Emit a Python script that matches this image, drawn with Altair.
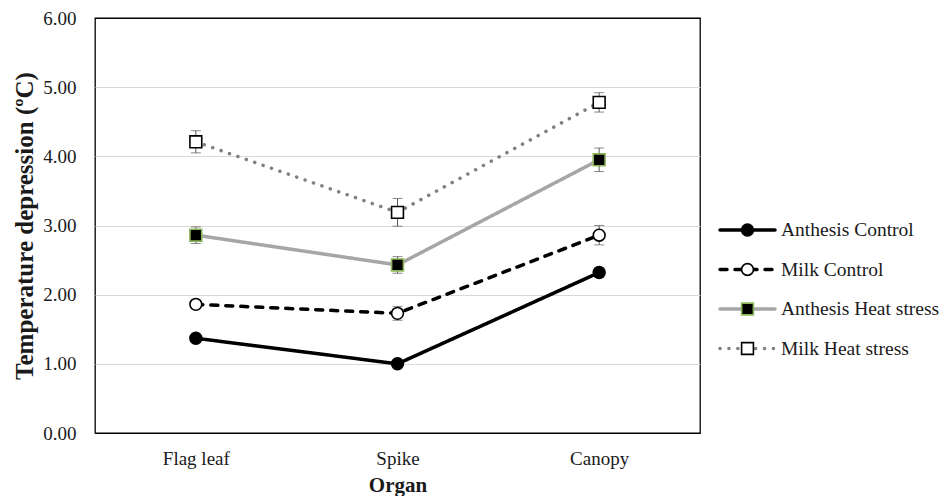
import altair as alt
import pandas as pd

organs = ["Flag leaf", "Spike", "Canopy"]
series = ["Anthesis Control", "Milk Control", "Anthesis Heat stress", "Milk Heat stress"]

anthesis_control = [1.37, 1.00, 2.32]
milk_control = [1.86, 1.73, 2.86]
anthesis_heat = [2.86, 2.43, 3.95]
milk_heat = [4.21, 3.19, 4.78]

anthesis_control_err = [0.03, 0.03, 0.07]
milk_control_err = [0.03, 0.10, 0.14]
anthesis_heat_err = [0.12, 0.12, 0.17]
milk_heat_err = [0.16, 0.20, 0.14]

values = [anthesis_control, milk_control, anthesis_heat, milk_heat]
errs = [anthesis_control_err, milk_control_err, anthesis_heat_err, milk_heat_err]

rows = []
for s, vals, es in zip(series, values, errs):
    for o, v, e in zip(organs, vals, es):
        rows.append({"organ": o, "series": s, "value": v, "err": e})
df = pd.DataFrame(rows)

FONT = "Liberation Serif"
TXT = "#1a1a1a"

line_colors = ["#000000", "#000000", "#a6a6a6", "#808080"]
dashes = [[1, 0], [7, 8], [1, 0], [0.1, 8.8]]
widths = [3.5, 3.5, 4.5, 4]
shapes = ["circle", "circle", "square", "square"]
fills = ["#000000", "#ffffff", "#000000", "#ffffff"]
strokes = ["#000000", "#000000", "#8db55a", "#000000"]
sizes = [140, 140, 170, 170]

color_enc = alt.Color("series:N", scale=alt.Scale(domain=series, range=line_colors), legend=None)
dash_enc = alt.StrokeDash("series:N", scale=alt.Scale(domain=series, range=dashes), legend=None)
width_enc = alt.StrokeWidth("series:N", scale=alt.Scale(domain=series, range=widths), legend=None)
shape_enc = alt.Shape("series:N", scale=alt.Scale(domain=series, range=shapes), legend=None)
fill_enc = alt.Fill("series:N", scale=alt.Scale(domain=series, range=fills), legend=None)
stroke_enc = alt.Stroke("series:N", scale=alt.Scale(domain=series, range=strokes), legend=None)
size_enc = alt.Size("series:N", scale=alt.Scale(domain=series, range=sizes), legend=None)

x_enc = alt.X(
    "organ:N",
    sort=organs,
    scale=alt.Scale(type="point", padding=0.5),
    axis=alt.Axis(
        title="Organ", labelAngle=0, ticks=False, domain=False, labelPadding=16,
        labelFont=FONT, labelFontSize=19, labelColor=TXT,
        titleFont=FONT, titleFontSize=21, titleFontWeight="bold", titleColor=TXT, titlePadding=6,
    ),
)
y_scale = alt.Scale(domain=[0, 6], nice=False)
y_enc = alt.Y(
    "value:Q",
    scale=y_scale,
    axis=alt.Axis(
        title="Temperature depression (ºC)", values=[0, 1, 2, 3, 4, 5, 6], format=".2f",
        ticks=False, domain=False, labelPadding=19,
        labelFont=FONT, labelFontSize=19, labelColor=TXT,
        gridColor=alt.condition("datum.value == 0 || datum.value == 6", alt.value("#000000"), alt.value("#d9d9d9")),
        gridWidth=1,
        titleFont=FONT, titleFontSize=25, titleFontWeight="bold", titleColor=TXT, titlePadding=5,
    ),
)

base = alt.Chart(df)

lines = base.mark_line(strokeCap="round").encode(
    x=x_enc, y=y_enc, color=color_enc, strokeDash=dash_enc, strokeWidth=width_enc, detail="series:N"
)

err_base = base.transform_calculate(lo="datum.value - datum.err", hi="datum.value + datum.err")
err_rule = err_base.mark_rule(color="#595959", strokeWidth=1).encode(
    x=alt.X("organ:N", sort=organs), y="lo:Q", y2="hi:Q"
)
cap_lo = err_base.mark_tick(color="#595959", thickness=1, size=10).encode(
    x=alt.X("organ:N", sort=organs), y="lo:Q"
)
cap_hi = err_base.mark_tick(color="#595959", thickness=1, size=10).encode(
    x=alt.X("organ:N", sort=organs), y="hi:Q"
)

points = base.mark_point(filled=True, opacity=1, strokeWidth=1.6).encode(
    x=alt.X("organ:N", sort=organs), y="value:Q",
    shape=shape_enc, fill=fill_enc, stroke=stroke_enc, size=size_enc,
)

main = alt.layer(lines, err_rule, cap_lo, cap_hi, points).properties(
    width=605, height=415, view=alt.ViewBackground(stroke="#000000", strokeWidth=1.3)
)

leg_df = pd.DataFrame({"series": series, "x0": 0.0, "x1": 1.0, "xm": 0.5})
leg_base = alt.Chart(leg_df)
leg_x = alt.Scale(domain=[0, 1])
leg_y = alt.Y("series:N", sort=series, scale=alt.Scale(type="point", range=[212, 330.5], padding=0), axis=None)

leg_lines = leg_base.mark_rule(strokeCap="round").encode(
    x=alt.X("x0:Q", scale=leg_x, axis=None), x2="x1:Q", y=leg_y,
    color=color_enc, strokeDash=dash_enc, strokeWidth=width_enc,
)
leg_points = leg_base.mark_point(filled=True, opacity=1, strokeWidth=1.6).encode(
    x=alt.X("xm:Q", scale=leg_x, axis=None), y=leg_y,
    shape=shape_enc, fill=fill_enc, stroke=stroke_enc, size=size_enc,
)
leg_text = leg_base.mark_text(align="left", baseline="middle", dx=6, font=FONT, fontSize=19.5, color=TXT).encode(
    x=alt.X("x1:Q", scale=leg_x, axis=None), y=leg_y, text="series:N"
)
legend = alt.layer(leg_lines, leg_points, leg_text).properties(
    width=55, height=415, view=alt.ViewBackground(stroke="transparent")
)

chart = alt.hconcat(main, legend, spacing=16).properties(
    padding={"left": 4, "top": 0, "right": 0, "bottom": 0}
).configure(background="white")

chart.save("out.html", embed_options={"renderer": "svg", "actions": False})
